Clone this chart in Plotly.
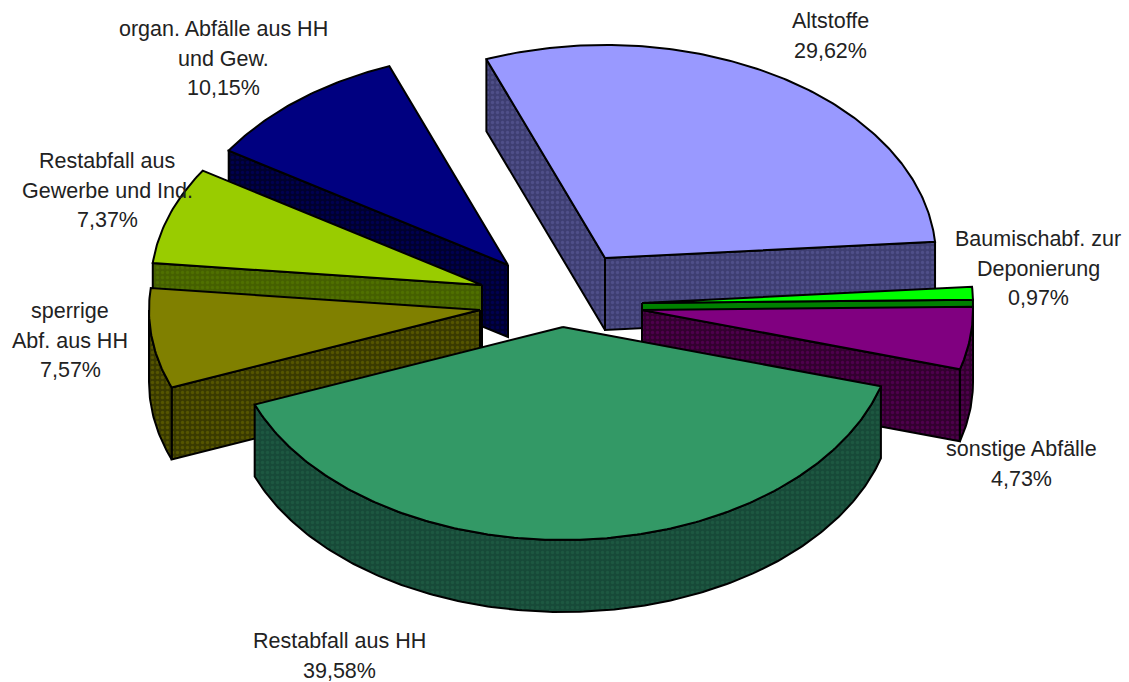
import math
import plotly.graph_objects as go

categories = ["Altstoffe", "Baumischabf. zur Deponierung", "sonstige Abfälle", "Restabfall aus HH",
              "sperrige Abf. aus HH", "Restabfall aus Gewerbe und Ind.", "organ. Abfälle aus HH und Gew."]
values = [29.62, 0.97, 4.73, 39.58, 7.57, 7.37, 10.15]
value_labels = ["29,62%", "0,97%", "4,73%", "39,58%", "7,57%", "7,37%", "10,15%"]
label_lines = [["Altstoffe"], ["Baumischabf. zur", "Deponierung"], ["sonstige Abfälle"], ["Restabfall aus HH"],
               ["sperrige", "Abf. aus HH"], ["Restabfall aus", "Gewerbe und Ind."], ["organ. Abfälle aus HH", "und Gew."]]
top_colors = ["#9999FF", "#00FF00", "#800080", "#339966", "#808000", "#99CC00", "#000080"]
side_bg = ["#3E3E72", "#008000", "#33002F", "#174A38", "#3A3A00", "#456000", "#00002E"]
side_fg = ["#6060A0", "#008000", "#6A006A", "#24664A", "#707000", "#5A7F00", "#000070"]

# Layout of the exploded pie in pixel space
apex_x = [605, 642, 642, 563, 480, 482, 508]
apex_y = [258, 303, 310, 327, 310, 285, 265]
label_x = [830, 1038, 1021, 339, 70, 107, 223]
label_y = [21, 239, 449, 641, 311, 161, 29]
draw_order = [6, 5, 4, 0, 1, 2, 3]
RX, RY, DEPTH = 331, 213, 72
START_DEG = -21.0
LINE_GAP = 29.5

fig = go.Figure()


def pt(i, deg, dz=0):
    r = math.radians(deg)
    return apex_x[i] + RX * math.sin(r), apex_y[i] - RY * math.cos(r) + dz


def arc(i, a0, a1, dz=0):
    n = max(2, int(abs(a1 - a0) * 1.5))
    return [pt(i, a0 + (a1 - a0) * k / n, dz) for k in range(n + 1)]


def poly(points, fill, pattern=None):
    xs = [p[0] for p in points] + [points[0][0]]
    ys = [p[1] for p in points] + [points[0][1]]
    kw = {}
    if pattern:
        kw["fillpattern"] = dict(shape=".", size=5, solidity=0.35, bgcolor=fill, fgcolor=pattern)
    fig.add_trace(go.Scatter(x=xs, y=ys, mode="lines", fill="toself", fillcolor=fill,
                             line=dict(color="black", width=2), hoverinfo="skip", showlegend=False, **kw))


angles = []
cur = START_DEG
for v in values:
    angles.append((cur, cur + v / sum(values) * 360))
    cur = angles[-1][1]

for i in draw_order:
    a0, a1 = angles[i]
    apex = (apex_x[i], apex_y[i])
    apex_low = (apex_x[i], apex_y[i] + DEPTH)
    faces = []
    if math.sin(math.radians(a0)) < 0:
        faces.append([apex, pt(i, a0), pt(i, a0, DEPTH), apex_low])
    if math.sin(math.radians(a1)) > 0:
        faces.append([apex, pt(i, a1), pt(i, a1, DEPTH), apex_low])
    lo, hi = max(a0, 90), min(a1, 270)
    if lo < hi:
        faces.append(arc(i, lo, hi) + arc(i, hi, lo, DEPTH))
    for f in faces:
        poly(f, side_bg[i], side_fg[i])
    poly([apex] + arc(i, a0, a1), top_colors[i])

for i in range(len(categories)):
    lines = label_lines[i] + [value_labels[i]]
    for k, txt in enumerate(lines):
        fig.add_annotation(x=label_x[i], y=label_y[i] + k * LINE_GAP, text=txt, showarrow=False,
                           xanchor="center", yanchor="middle",
                           font=dict(family="Liberation Sans, Arial, sans-serif", size=21.5, color="#222222"))

fig.update_layout(
    width=1129, height=682, margin=dict(l=0, r=0, t=0, b=0),
    paper_bgcolor="white", plot_bgcolor="white", showlegend=False,
    xaxis=dict(range=[0, 1129], visible=False, fixedrange=True),
    yaxis=dict(range=[682, 0], visible=False, fixedrange=True),
)
fig.write_html("out.html", post_script="document.body.style.margin='0';document.body.style.overflow='hidden';",
               config={"displayModeBar": False})
